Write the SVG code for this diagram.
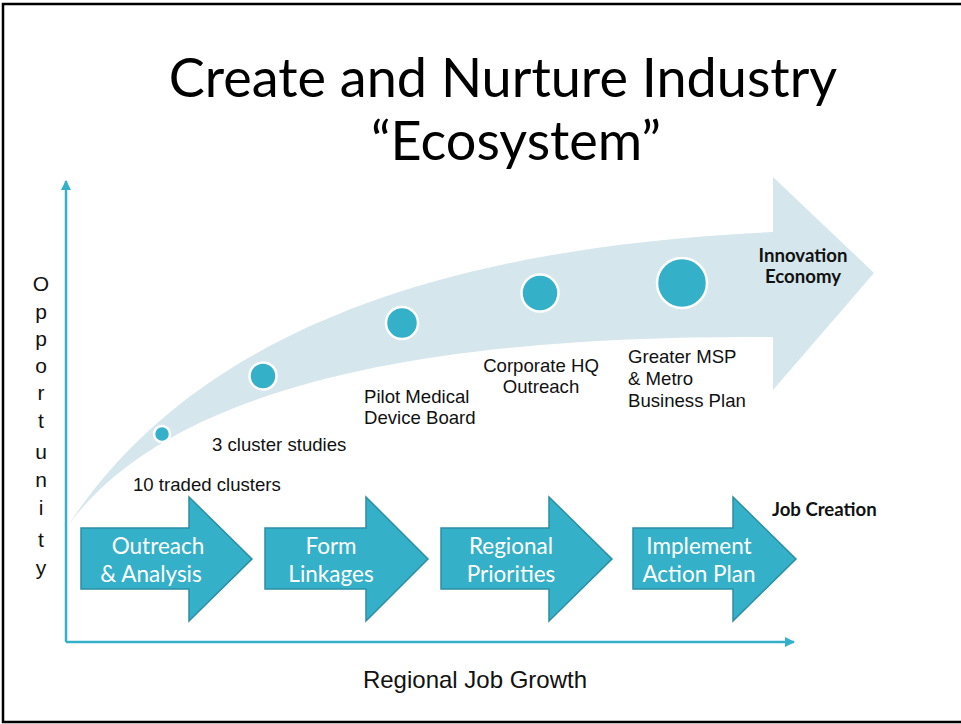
<svg xmlns="http://www.w3.org/2000/svg" width="961" height="724" viewBox="0 0 961 724">
  <defs>
    <style>
      .title { font-family: Lato, "Open Sans", sans-serif; font-size: 54px; fill: #000; text-anchor: middle; }
      .lbl { font-family: "Liberation Sans", Arial, sans-serif; font-size: 18.6px; fill: #111; }
      .axl { font-family: "Liberation Sans", Arial, sans-serif; font-size: 21px; fill: #111; text-anchor: middle; }
      .bold { font-family: Lato, "Open Sans", sans-serif; font-weight: bold; font-size: 18.6px; fill: #111; }
      .step { fill: #35b0c9; stroke: #2a8ea5; stroke-width: 1.5; stroke-linejoin: miter; }
      .steptxt { font-family: Lato, "Open Sans", sans-serif; font-size: 22.5px; fill: #fff; text-anchor: middle; }
      .dot { fill: #35b0c9; stroke: #fff; stroke-width: 2.5; }
      .axis { stroke: #35b0c9; stroke-width: 2.5; fill: none; }
    </style>
    <marker id="ah" viewBox="0 0 10 10" refX="9" refY="5" markerWidth="4" markerHeight="4" orient="auto" markerUnits="strokeWidth">
      <path d="M0,0 L10,5 L0,10 Z" fill="#35b0c9"/>
    </marker>
  </defs>

  <rect x="0" y="0" width="961" height="724" fill="#fff"/>
  <!-- frame -->
  <path d="M990,4 L3,4 L3,722 L990,722" fill="none" stroke="#000" stroke-width="2.5"/>

  <!-- title -->
  <g id="title">
    <text class="title" x="503" y="97">Create and Nurture Industry</text>
    <text class="title" x="516" y="160">“Ecosystem”</text>
  </g>

  <!-- big curved light arrow -->
  <g id="innovation-arrow">
    <path d="M67,527 C170,370 370,250 773,232 L773,177 L874,273 L773,390 L773,337 C480,335 180,370 67,527 Z" fill="#d5e6ed"/>
    <text class="bold" x="803" y="262" text-anchor="middle">Innovation</text>
    <text class="bold" x="803" y="283" text-anchor="middle">Economy</text>
  </g>

  <!-- milestones -->
  <g id="m1"><circle class="dot" cx="162" cy="434" r="8"/><text class="lbl" x="133" y="491">10 traded clusters</text></g>
  <g id="m2"><circle class="dot" cx="263" cy="376" r="13.5"/><text class="lbl" x="212" y="451">3 cluster studies</text></g>
  <g id="m3"><circle class="dot" cx="402" cy="323" r="16"/><text class="lbl" x="364" y="403">Pilot Medical</text><text class="lbl" x="364" y="424">Device Board</text></g>
  <g id="m4"><circle class="dot" cx="540" cy="293" r="18.5"/><text class="lbl" x="541" y="372" text-anchor="middle">Corporate HQ</text><text class="lbl" x="541" y="393" text-anchor="middle">Outreach</text></g>
  <g id="m5"><circle class="dot" cx="682" cy="283" r="25"/><text class="lbl" x="628" y="363">Greater MSP</text><text class="lbl" x="628" y="385">&amp; Metro</text><text class="lbl" x="628" y="407">Business Plan</text></g>

  <!-- axes -->
  <g id="connectors">
    <line class="axis" x1="66" y1="642" x2="66" y2="181" marker-end="url(#ah)"/>
    <line class="axis" x1="66" y1="642" x2="794" y2="642" marker-end="url(#ah)"/>
  </g>

  <g id="y-label">
    <text class="axl" x="41" y="291">O</text>
    <text class="axl" x="41" y="319">p</text>
    <text class="axl" x="41" y="346">p</text>
    <text class="axl" x="41" y="373">o</text>
    <text class="axl" x="41" y="400">r</text>
    <text class="axl" x="41" y="428">t</text>
    <text class="axl" x="41" y="459">u</text>
    <text class="axl" x="41" y="487">n</text>
    <text class="axl" x="41" y="515">i</text>
    <text class="axl" x="41" y="547">t</text>
    <text class="axl" x="41" y="575">y</text>
  </g>
  <g id="x-label">
    <text class="lbl" x="475" y="688" text-anchor="middle" style="font-size:24px">Regional Job Growth</text>
  </g>

  <!-- step arrows -->
  <g id="step1">
    <polygon class="step" points="81,528 189,528 189,497 252,559 189,621 189,589 81,589"/>
    <text class="steptxt" x="158" y="554">Outreach</text>
    <text class="steptxt" x="151" y="582">&amp; Analysis</text>
  </g>
  <g id="step2">
    <polygon class="step" points="265,528 366,528 366,497 428,559 366,621 366,589 265,589"/>
    <text class="steptxt" x="331" y="554">Form</text>
    <text class="steptxt" x="331" y="582">Linkages</text>
  </g>
  <g id="step3">
    <polygon class="step" points="441,528 549,528 549,497 612,559 549,621 549,589 441,589"/>
    <text class="steptxt" x="511" y="554">Regional</text>
    <text class="steptxt" x="511" y="582">Priorities</text>
  </g>
  <g id="step4">
    <polygon class="step" points="633,528 733,528 733,497 796,559 733,621 733,589 633,589"/>
    <text class="steptxt" x="699" y="554">Implement</text>
    <text class="steptxt" x="699" y="582">Action Plan</text>
  </g>
  <g id="job-creation">
    <text class="bold" x="772" y="516">Job Creation</text>
  </g>
</svg>
